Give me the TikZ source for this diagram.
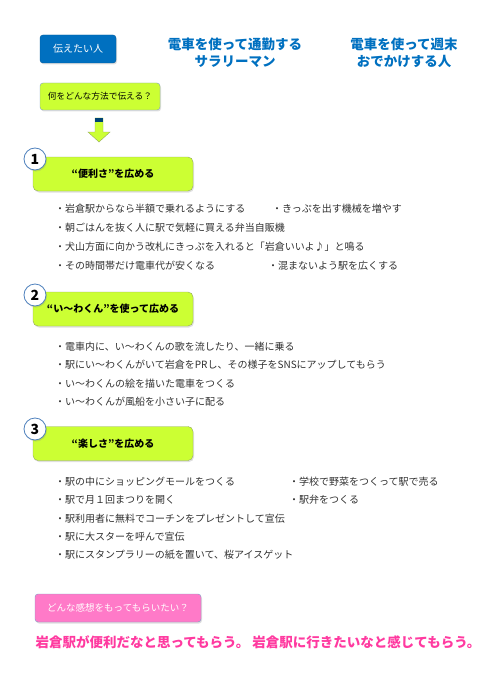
\documentclass[tikz,border=0pt]{standalone}
\usepackage{fontspec}
\setmainfont{Noto Sans CJK JP}
\usepackage{tikz}
\usetikzlibrary{shadows}
\definecolor{tagblue}{HTML}{0070C0}
\definecolor{limefill}{HTML}{CCFF33}
\definecolor{limeline}{HTML}{94A860}
\definecolor{circline}{HTML}{4F81BD}
\definecolor{pinkfill}{HTML}{FF7AC8}
\definecolor{pinkline}{HTML}{7F9CC4}
\definecolor{pinktext}{HTML}{FF3AA0}
\definecolor{itemgray}{HTML}{303030}
\tikzstyle{softshadow} = [drop shadow={opacity=0.25, shadow xshift=1pt, shadow yshift=-1.5pt}]
\tikzstyle{tagbox} = [rounded corners=3pt, minimum width=76pt, minimum height=28pt, fill=tagblue, draw=tagblue!80!black, text=white, font=\fontsize{10}{10}\selectfont, softshadow]
\tikzstyle{askbox} = [rounded corners=3pt, minimum width=120pt, minimum height=27pt, fill=limefill, draw=pinkline, font=\fontsize{8.7}{9}\selectfont, softshadow]
\tikzstyle{stepbox} = [rounded corners=5pt, minimum width=160pt, minimum height=34pt, fill=limefill, draw=limeline, font=\bfseries\fontsize{10}{10}\selectfont, softshadow]
\tikzstyle{stepnum} = [circle, minimum size=22pt, inner sep=0pt, draw=circline, line width=0.8pt, fill=white, font=\bfseries\fontsize{14}{14}\selectfont, softshadow]
\tikzstyle{who} = [align=center, text=tagblue, font=\bfseries\fontsize{13.5}{17}\selectfont]
\tikzstyle{item} = [anchor=west, inner sep=0pt, text=itemgray, font=\fontsize{10}{10}\selectfont]
\tikzstyle{feelbox} = [rounded corners=3pt, minimum width=166pt, minimum height=28pt, fill=pinkfill, draw=pinkline, text=white, font=\fontsize{9.5}{10}\selectfont, softshadow]

\begin{document}
\begin{tikzpicture}[x=1pt, y=-1pt]
			\useasboundingbox (0,0) rectangle (500,690);

			%--Target--%
			\node(tag)[tagbox] at (78,49) {伝えたい人};
			\node(who1)[who] at (235,53) {電車を使って通勤する\\サラリーマン};
			\node(who2)[who] at (404,53) {電車を使って週末\\おでかけする人};

			%--Question--%
			\node(ask)[askbox] at (100,96.5) {何をどんな方法で伝える？};

			%--Arrow--%
			\draw[fill=limefill, draw=limeline] (95,118) -- (103,118) -- (103,132) -- (110,132)
				-- (99,142) -- (88,132) -- (95,132) -- cycle;
			\fill[tagblue!60!black] (95,118) rectangle (103,122);

			%--Step 1--%
			\node(box1)[stepbox] at (113,174) {“便利さ”を広める};
			\node(num1)[stepnum] at (35,159) {1};
			\node(i11)[item] at (55,209) {・岩倉駅からなら半額で乗れるようにする};
			\node(i12)[item] at (272,209) {・きっぷを出す機械を増やす};
			\node(i13)[item] at (55,228) {・朝ごはんを抜く人に駅で気軽に買える弁当自販機};
			\node(i14)[item] at (55,247) {・犬山方面に向かう改札にきっぷを入れると「岩倉いいよ♪」と鳴る};
			\node(i15)[item] at (55,266) {・その時間帯だけ電車代が安くなる};
			\node(i16)[item] at (268,266) {・混まないよう駅を広くする};

			%--Step 2--%
			\node(box2)[stepbox] at (113,309) {“い～わくん”を使って広める};
			\node(num2)[stepnum] at (35,295) {2};
			\node(i21)[item] at (55,347) {・電車内に、い～わくんの歌を流したり、一緒に乗る};
			\node(i22)[item] at (55,365) {・駅にい～わくんがいて岩倉をPRし、その様子をSNSにアップしてもらう};
			\node(i23)[item] at (55,384) {・い～わくんの絵を描いた電車をつくる};
			\node(i24)[item] at (55,402) {・い～わくんが風船を小さい子に配る};

			%--Step 3--%
			\node(box3)[stepbox] at (113,443.5) {“楽しさ”を広める};
			\node(num3)[stepnum] at (35,429) {3};
			\node(i31)[item] at (55,482) {・駅の中にショッピングモールをつくる};
			\node(i32)[item] at (289,482) {・学校で野菜をつくって駅で売る};
			\node(i33)[item] at (55,500) {・駅で月１回まつりを開く};
			\node(i34)[item] at (289,500) {・駅弁をつくる};
			\node(i35)[item] at (55,519) {・駅利用者に無料でコーチンをプレゼントして宣伝};
			\node(i36)[item] at (55,537) {・駅に大スターを呼んで宣伝};
			\node(i37)[item] at (55,555) {・駅にスタンプラリーの紙を置いて、桜アイスゲット};

			%--Feeling--%
			\node(feel)[feelbox] at (118,608) {どんな感想をもってもらいたい？};
			\node(goal)[text=pinktext, font=\bfseries\fontsize{13.5}{14}\selectfont] at (258,642)
				{岩倉駅が便利だなと思ってもらう。 岩倉駅に行きたいなと感じてもらう。};
		\end{tikzpicture}
\end{document}
